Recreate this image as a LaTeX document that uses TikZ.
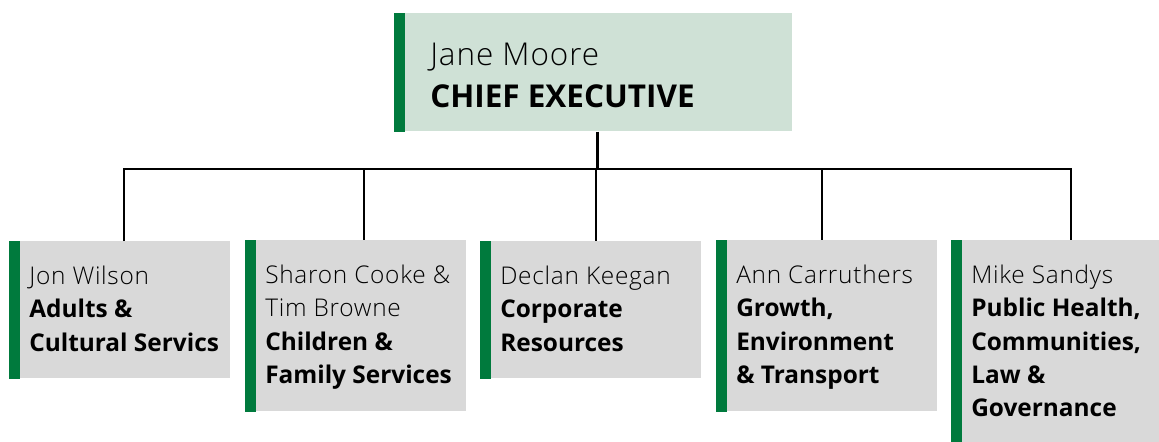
\documentclass[tikz,border=0pt]{standalone}
\usepackage{fontspec}
\setmainfont{Open Sans}
\newfontface\namefont{Open Sans Light}[LetterSpace=3]
\definecolor{bargreen}{HTML}{007A3D}
\definecolor{ceofill}{HTML}{CFE1D6}
\definecolor{boxgray}{HTML}{D9D9D9}
\tikzset{
  ceobox/.style={fill=ceofill, draw=none, anchor=north west, inner sep=0pt,
    minimum width=398*0.75pt, minimum height=118*0.75pt},
  unitbox/.style={fill=boxgray, draw=none, anchor=north west, inner sep=0pt,
    minimum width=221*0.75pt},
  ceotext/.style={anchor=north west, inner sep=0pt, align=left,
    font=\fontsize{23.6}{31.5}\selectfont},
  unittext/.style={anchor=north west, inner sep=0pt, align=left,
    font=\fontsize{18.3}{25}\selectfont},
  link/.style={draw=black, line width=1.5pt},
  stem/.style={draw=black, line width=2.25pt},
}
% green accent bar on the left edge of a box
\newcommand{\accentbar}[1]{\fill[bargreen] (#1.north west) rectangle ([xshift=11*0.75pt]#1.south west);}
\begin{document}
\begin{tikzpicture}[x=0.75pt,y=-0.75pt]
\useasboundingbox (0,0) rectangle (1159,442);

% chief executive
\node[ceobox] (ceo) at (394,13) {};
\accentbar{ceo}
\node[ceotext] (ceot) at (430,35.6) {\strut{\namefont Jane Moore}\\\textbf{CHIEF EXECUTIVE}};

% directorates
\node[unitbox, minimum height=137*0.75pt] (u1) at (9,241) {};
\node[unitbox, minimum height=171*0.75pt] (u2) at (245,240) {};
\node[unitbox, minimum height=137*0.75pt] (u3) at (480,241) {};
\node[unitbox, minimum height=171*0.75pt] (u4) at (716,240) {};
\node[unitbox, minimum width=208*0.75pt, minimum height=202*0.75pt] (u5) at (951,240) {};
\foreach \b in {u1,u2,u3,u4,u5} {\accentbar{\b}}

\node[unittext] (u1t) at (29,261) {\strut{\namefont Jon Wilson}\\\textbf{Adults \&}\\\textbf{Cultural Servics}};
\node[unittext] (u2t) at (265,260) {\strut{\namefont Sharon Cooke \&}\\{\namefont Tim Browne}\\\textbf{Children \&}\\\textbf{Family Services}};
\node[unittext] (u3t) at (500,261) {\strut{\namefont Declan Keegan}\\\textbf{Corporate}\\\textbf{Resources}};
\node[unittext] (u4t) at (736,260) {\strut{\namefont Ann Carruthers}\\\textbf{Growth,}\\\textbf{Environment}\\\textbf{\& Transport}};
\node[unittext] (u5t) at (971,260) {\strut{\namefont Mike Sandys}\\\textbf{Public Health,}\\\textbf{Communities,}\\\textbf{Law \&}\\\textbf{Governance}};

% connectors
\coordinate (hub) at (597,169);
\coordinate (c1) at (124,241);
\coordinate (c2) at (364,240);
\coordinate (c3) at (596,241);
\coordinate (c4) at (822,240);
\coordinate (c5) at (1071,240);
\draw[stem] (ceo.south -| hub) -- (hub);
\draw[link] (c1) |- (hub) -| (c5);
\foreach \c in {c2,c3,c4} {\draw[link] (hub -| \c) -- (\c);}
\end{tikzpicture}
\end{document}
